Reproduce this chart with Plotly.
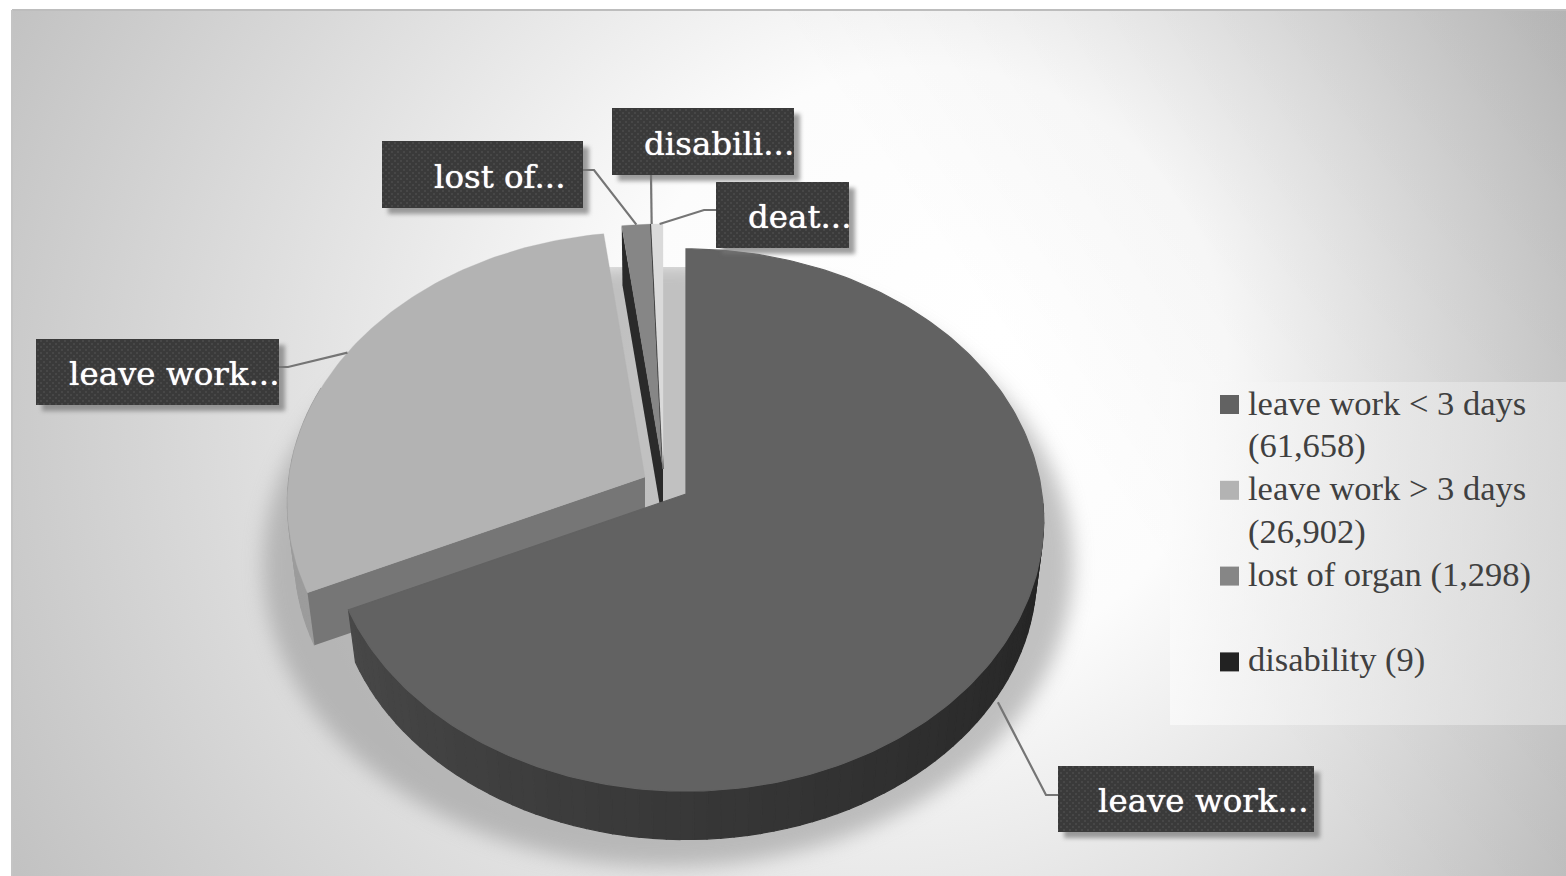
import base64
import math
import plotly.graph_objects as go

# Slice data, clockwise from twelve o'clock
CATEGORIES = ["leave work < 3 days", "leave work > 3 days", "lost of organ", "disability", "death"]
VALUES = [61658, 26902, 1298, 9, 525]
TOP_COLORS = ["#626262", "#b3b3b3", "#868686", "#222222", "#dadada"]
WALL_COLORS = ["#3a3a3a", "#9c9c9c", "#2a2a2a", "#222222", "#c4c4c4"]
CALLOUT_TEXT = ["leave work...", "leave work...", "lost of...", "disabili...", "deat..."]

LEGEND_LINES = [
    ("leave work < 3 days", 0),
    ("(61,658)", None),
    ("leave work > 3 days", 1),
    ("(26,902)", None),
    ("lost of organ (1,298)", 2),
    ("", None),
    ("disability (9)", 3),
]

W, H = 1566, 876

# Projection of the tilted pie onto the page
RX, RY, PERSP = 356.0, 268.6, 0.096
DEPTH, BOTTOM_SCALE = 55.0, 0.98
APEX = [(686, 494), (645, 477), (663, 469), (663, 469), (663, 469)]

# Callout boxes (left, top, right, bottom), text start, elbow of the leader
BOXES = [
    (1058, 766, 1314, 832, 1096, (1046, 795)),
    (36, 339, 279, 405, 67, (288, 367)),
    (382, 141, 583, 208, 432, (594, 170)),
    (612, 108, 794, 175, 642, (651, 175)),
    (716, 182, 849, 248, 746, (704, 210)),
]
LEADER_ANGLE = [124.0, 299.0, 355.3, 358.0, 359.4]


def project(apex, theta, radius=1.0, drop=0.0, scale=1.0):
    u = math.sin(math.radians(theta)) * radius * scale
    v = math.cos(math.radians(theta)) * radius * scale
    p = 1.0 / (1.0 + PERSP * v)
    return apex[0] + RX * u * p, apex[1] - RY * v * p + drop


def mix(a, b, t):
    ca = [int(a[i:i + 2], 16) for i in (1, 3, 5)]
    cb = [int(b[i:i + 2], 16) for i in (1, 3, 5)]
    return "#%02x%02x%02x" % tuple(round(x + (y - x) * t) for x, y in zip(ca, cb))


def poly(points, color, width=0.0, name=None):
    xs = [p[0] for p in points] + [points[0][0]]
    ys = [p[1] for p in points] + [points[0][1]]
    return go.Scatter(
        x=xs, y=ys, mode="lines", fill="toself", fillcolor=color,
        line=dict(color=color, width=width), hoverinfo="text" if name else "skip",
        text=name, showlegend=False,
    )


def arc(a0, a1, step=1.0):
    n = max(2, int(abs(a1 - a0) / step) + 1)
    return [a0 + (a1 - a0) * i / (n - 1) for i in range(n)]


total = sum(VALUES)
spans = []
start = 0.0
for v in VALUES:
    end = start + v / total * 360.0
    spans.append((start, end))
    start = end

# Page backdrop: off-centre vignette, legend panel, soft pie shadow
backdrop = f"""<svg xmlns='http://www.w3.org/2000/svg' width='{W}' height='{H}' viewBox='0 0 {W} {H}'>
<defs>
<radialGradient id='bg' gradientUnits='userSpaceOnUse' cx='783' cy='438' r='905' fx='1000' fy='330'>
<stop offset='0' stop-color='#ffffff'/><stop offset='0.33' stop-color='#fcfcfc'/>
<stop offset='1' stop-color='#c0c0c0'/>
</radialGradient>
<linearGradient id='rightfall' gradientUnits='userSpaceOnUse' x1='1050' y1='420' x2='1566' y2='60'>
<stop offset='0' stop-color='#000000' stop-opacity='0'/>
<stop offset='1' stop-color='#000000' stop-opacity='0.07'/>
</linearGradient>
<linearGradient id='panel' x1='0' x2='1' y1='0' y2='0'>
<stop offset='0' stop-color='#fbfbfb'/><stop offset='1' stop-color='#dddddd'/>
</linearGradient>
<filter id='soft' x='-20%' y='-20%' width='140%' height='140%'><feGaussianBlur stdDeviation='10'/></filter>
<clipPath id='shadowclip'><rect x='200' y='267' width='930' height='609'/></clipPath>
</defs>
<rect width='{W}' height='{H}' fill='#ffffff'/>
<rect x='12' y='10' width='{W-12}' height='{H-10}' fill='url(#bg)'/>
<rect x='12' y='10' width='{W-12}' height='{H-10}' fill='url(#rightfall)'/>
<rect x='12' y='9' width='{W-12}' height='2' fill='#bdbdbd'/>
<rect x='11' y='10' width='2' height='{H-10}' fill='#c4c4c4'/>
<rect x='1170' y='382' width='396' height='343' fill='url(#panel)' opacity='0.75'/>
<g clip-path='url(#shadowclip)'>
<ellipse cx='668' cy='565' rx='405' ry='302' fill='#9a9a9a' opacity='0.6' filter='url(#soft)'/>
</g>
</svg>"""

# Dotted dark boxes with their drop shadows
box_svg = ["<svg xmlns='http://www.w3.org/2000/svg' width='%d' height='%d' viewBox='0 0 %d %d'>" % (W, H, W, H)]
box_svg.append("<defs><pattern id='dots' width='6' height='6' patternUnits='userSpaceOnUse'>"
               "<rect width='6' height='6' fill='#3a3a3a'/>"
               "<rect x='1' y='1' width='2' height='2' fill='#474747'/>"
               "<rect x='4' y='4' width='2' height='2' fill='#474747'/></pattern>"
               "<filter id='bs' x='-10%' y='-20%' width='120%' height='140%'>"
               "<feGaussianBlur stdDeviation='2'/></filter></defs>")
for (l, t, r, b, _, _) in BOXES:
    box_svg.append(f"<rect x='{l+6}' y='{t+6}' width='{r-l}' height='{b-t}' fill='#777777' opacity='0.7' filter='url(#bs)'/>")
    box_svg.append(f"<rect x='{l}' y='{t}' width='{r-l}' height='{b-t}' fill='url(#dots)'/>")
box_svg.append("</svg>")
box_svg = "".join(box_svg)


def data_uri(svg):
    return "data:image/svg+xml;base64," + base64.b64encode(svg.encode()).decode()


fig = go.Figure()

# Far slices first so the exploded main slice overlaps them
draw_order = [1, 2, 3, 4, 0]
for idx in draw_order:
    a0, a1 = spans[idx]
    apex = APEX[idx]
    if idx in (0, 1):
        # outer wall along the arc that faces the viewer
        vis0, vis1 = (92.0, a1) if idx == 0 else (a0, 290.0)
        pts = arc(vis0, vis1, 2.0)
        for i in range(len(pts) - 1):
            t = (pts[i] - vis0) / max(1e-6, vis1 - vis0)
            c = mix("#222222", "#484848", t) if idx == 0 else WALL_COLORS[1]
            quad = [project(apex, pts[i]), project(apex, pts[i + 1]),
                    project(apex, pts[i + 1], drop=DEPTH, scale=BOTTOM_SCALE),
                    project(apex, pts[i], drop=DEPTH, scale=BOTTOM_SCALE)]
            fig.add_trace(poly(quad, c, 1.2))
    if idx in (1, 2):
        # cut face exposed towards the viewer
        face = "#767676" if idx == 1 else WALL_COLORS[2]
        fig.add_trace(poly([apex, project(apex, a0),
                            project(apex, a0, drop=DEPTH, scale=BOTTOM_SCALE),
                            (apex[0], apex[1] + DEPTH)], face))
    top = [apex] + [project(apex, a) for a in arc(a0, a1)]
    width = {0: 1.2, 3: 1.5}.get(idx, 0.3)
    fig.add_trace(poly(top, TOP_COLORS[idx], width, CATEGORIES[idx]))

# Leader lines from each slice out to its callout
for i, (l, t, r, b, _, elbow) in enumerate(BOXES):
    rim = project(APEX[i], LEADER_ANGLE[i], drop=DEPTH * 0.9 if i == 0 else 0)
    if i == 0 or i == 4:
        end = (l, elbow[1])
    elif i == 3:
        end = elbow
    else:
        end = (r, elbow[1])
    fig.add_trace(go.Scatter(
        x=[rim[0], elbow[0], end[0]], y=[rim[1], elbow[1], end[1]], mode="lines",
        line=dict(color="#757575", width=2.2), hoverinfo="skip", showlegend=False,
    ))

annotations = []
for i, (l, t, r, b, tx, _) in enumerate(BOXES):
    annotations.append(dict(
        x=tx, y=(t + b) / 2 + 2, xref="x", yref="y", text=CALLOUT_TEXT[i], showarrow=False,
        xanchor="left", yanchor="middle",
        font=dict(family="DejaVu Serif", size=32.5, color="#ffffff", shadow="0 0 1px #ffffff"),
    ))

# Hand-set legend: one text row per line, square swatch where a series starts
LEGEND_Y0, LEGEND_STEP = 402.5, 42.9
swatch_x, swatch_y, swatch_c = [], [], []
for row, (text, series) in enumerate(LEGEND_LINES):
    y = LEGEND_Y0 + row * LEGEND_STEP
    if text:
        annotations.append(dict(
            x=1246, y=y, xref="x", yref="y", text=text.replace("<", "&lt;"), showarrow=False,
            xanchor="left", yanchor="middle",
            font=dict(family="Liberation Serif", size=34.5, color="#404040"),
        ))
    if series is not None:
        swatch_x.append(1229.5)
        swatch_y.append(y + 2)
        swatch_c.append(TOP_COLORS[series])
fig.add_trace(go.Scatter(
    x=swatch_x, y=swatch_y, mode="markers", hoverinfo="skip", showlegend=False,
    marker=dict(symbol="square", size=19, color=swatch_c, line=dict(width=0)),
))

images = [
    dict(source=data_uri(backdrop), xref="x", yref="y", x=0, y=0, sizex=W, sizey=H,
         sizing="stretch", xanchor="left", yanchor="top", layer="below"),
    dict(source=data_uri(box_svg), xref="x", yref="y", x=0, y=0, sizex=W, sizey=H,
         sizing="stretch", xanchor="left", yanchor="top", layer="above"),
]

fig.update_layout(
    width=W, height=H, margin=dict(l=0, r=0, t=0, b=0), autosize=False,
    paper_bgcolor="#ffffff", plot_bgcolor="rgba(0,0,0,0)", showlegend=False,
    xaxis=dict(range=[0, W], visible=False, fixedrange=True),
    yaxis=dict(range=[H, 0], visible=False, fixedrange=True),
    annotations=annotations, images=images,
)

fig.write_html("out.html", config=dict(displayModeBar=False))
